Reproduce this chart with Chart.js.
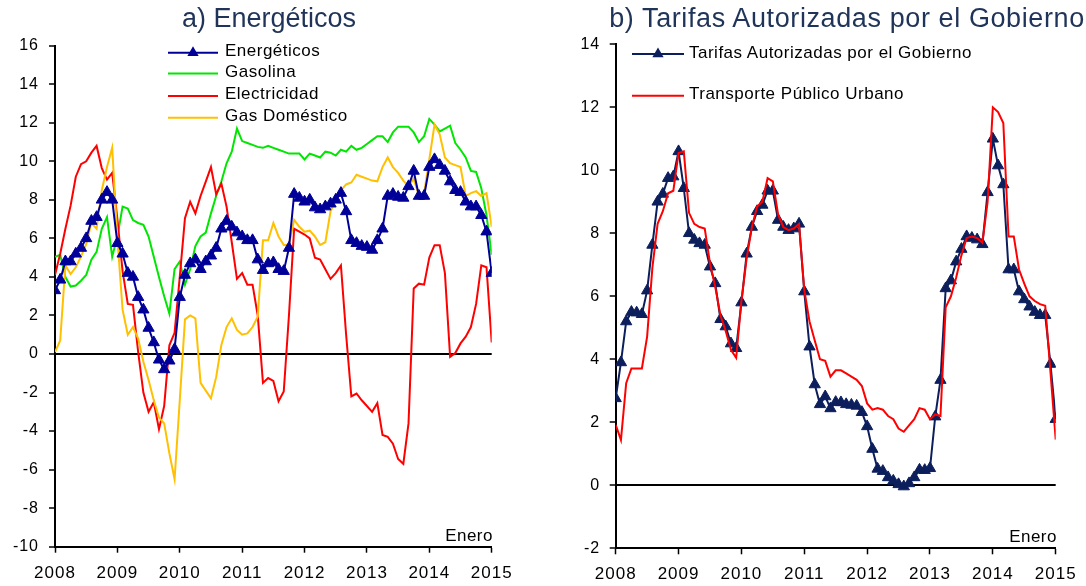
<!DOCTYPE html>
<html>
<head>
<meta charset="utf-8">
<script src="https://cdn.jsdelivr.net/npm/chart.js@4.4.0/dist/chart.umd.min.js"></script>
<style>
html,body{margin:0;padding:0;background:#fff;width:1086px;height:586px;overflow:hidden;font-family:"Liberation Sans",Arial,sans-serif;}
#wrap{position:relative;width:1086px;height:586px;}
canvas{position:absolute;top:0;}
.title{position:absolute;font-size:27px;line-height:30px;color:#1f3458;white-space:nowrap;transform:translateX(-50%);}
.lt{position:absolute;font-size:17px;line-height:20px;color:#000;white-space:nowrap;letter-spacing:0.5px;}
#legsvg{position:absolute;left:0;top:0;}
</style>
</head>
<body>
<div id="wrap">
  <canvas id="c1" width="543" height="586" style="left:0px"></canvas>
  <canvas id="c2" width="543" height="586" style="left:543px"></canvas>
  <div class="title" style="left:269px;top:3px;">a) Energéticos</div>
  <div class="title" style="left:847px;top:3px;letter-spacing:0.6px;">b) Tarifas Autorizadas por el Gobierno</div>
  <svg id="legsvg" width="1086" height="586"></svg>
  <div class="lt" style="left:225px;top:41px;">Energéticos</div>
  <div class="lt" style="left:225px;top:62px;">Gasolina</div>
  <div class="lt" style="left:225px;top:84px;">Electricidad</div>
  <div class="lt" style="left:225px;top:106px;">Gas Doméstico</div>
  <div class="lt" style="left:689px;top:43px;">Tarifas Autorizadas por el Gobierno</div>
  <div class="lt" style="left:689px;top:84px;">Transporte Público Urbano</div>
  <div class="lt" style="right:593px;top:526px;">Enero</div>
  <div class="lt" style="right:29px;top:527px;">Enero</div>
</div>
<script>
// ---- data (monthly, Jan 2008 .. Jan 2015) ----
const years = ['2008','2009','2010','2011','2012','2013','2014','2015'];

const energeticos = [3.3,3.85,4.8,4.8,5.2,5.5,6.0,6.9,7.1,8.0,8.4,8.0,
  5.75,5.2,4.2,4.0,2.95,2.3,1.35,0.6,-0.3,-0.8,-0.35,0.25,
  2.95,4.1,4.7,4.9,4.4,4.8,5.1,5.5,6.5,6.9,6.6,6.3,
  6.1,5.9,5.9,4.9,4.35,4.7,4.75,4.4,4.3,5.5,8.3,8.1,
  7.9,8.0,7.6,7.5,7.65,7.8,8.0,8.35,7.4,5.9,5.75,5.6,
  5.55,5.4,5.9,6.5,8.2,8.3,8.15,8.1,8.7,9.5,8.2,8.2,
  9.7,10.1,9.8,9.5,8.95,8.5,8.4,7.9,7.65,7.65,7.2,6.35,4.2];

const gasolina = [5.05,5.15,4.0,3.5,3.55,3.8,4.1,4.9,5.3,6.5,7.1,5.05,
  6.1,7.65,7.55,6.95,6.8,6.7,6.1,5.05,4.0,3.0,2.1,4.4,
  4.8,3.6,4.4,5.6,6.1,6.3,7.3,8.2,8.95,9.9,10.5,11.7,
  11.05,10.95,10.85,10.75,10.7,10.8,10.7,10.6,10.5,10.4,10.4,10.4,
  10.1,10.4,10.3,10.2,10.5,10.45,10.3,10.6,10.5,10.8,10.6,10.7,
  10.9,11.1,11.3,11.3,11.0,11.5,11.8,11.8,11.8,11.5,11.0,11.3,
  12.2,11.9,11.55,11.7,11.85,10.95,10.6,10.2,9.5,9.45,8.6,7.2,5.15];

const electricidad = [4.1,5.2,6.5,7.7,9.2,9.85,10.0,10.45,10.8,9.65,9.05,9.4,
  7.0,4.3,2.6,2.55,0.1,-2.0,-3.0,-2.5,-3.9,-2.7,0.45,1.1,
  4.0,7.05,7.9,7.3,8.2,8.95,9.7,8.3,8.85,7.65,5.8,3.9,
  4.2,3.6,3.6,2.0,-1.5,-1.25,-1.4,-2.45,-1.95,2.0,6.5,6.35,
  6.2,6.0,5.0,4.9,4.4,3.9,4.2,4.6,1.0,-2.2,-2.05,-2.4,
  -2.7,-3.0,-2.55,-4.2,-4.3,-4.65,-5.45,-5.7,-3.6,3.4,3.65,3.6,
  5.0,5.65,5.65,4.2,-0.15,0.05,0.55,0.9,1.4,2.6,4.6,4.5,0.6];

const gasDomestico = [0.1,0.7,4.6,4.15,4.5,5.05,5.7,6.8,6.5,8.5,9.7,10.7,
  6.0,2.3,1.0,1.4,0.8,-0.4,-1.35,-2.4,-3.3,-3.6,-5.15,-6.5,
  -2.4,1.8,2.0,1.85,-1.5,-1.9,-2.3,-1.2,0.47,1.4,1.85,1.25,
  1.0,1.07,1.4,1.94,5.9,5.9,6.8,6.1,5.66,5.66,6.96,6.6,
  6.35,6.4,6.1,5.66,5.8,7.4,8.0,8.5,8.8,8.9,9.3,9.2,
  9.1,9.0,8.96,9.7,10.2,9.7,9.4,9.0,8.7,9.1,8.2,8.35,
  10.1,11.9,11.4,10.2,9.9,9.8,9.7,8.2,8.35,8.45,8.2,8.35,6.6];

const tarifas = [2.76,3.9,5.2,5.5,5.48,5.43,6.18,7.63,9.0,9.25,9.75,9.8,
  10.6,9.43,8.0,7.79,7.68,7.63,6.94,6.41,5.27,5.04,4.5,4.35,
  5.8,7.35,8.2,8.7,8.9,9.35,9.35,8.42,8.2,8.1,8.15,8.3,
  6.15,4.4,3.2,2.57,2.82,2.44,2.64,2.63,2.57,2.55,2.52,2.32,
  1.87,1.15,0.52,0.45,0.25,0.14,0.03,-0.04,0.06,0.25,0.49,0.48,
  0.54,2.18,3.34,6.25,6.5,7.1,7.5,7.9,7.85,7.8,7.65,9.3,
  11.0,10.15,9.55,6.85,6.85,6.15,5.9,5.67,5.5,5.4,5.4,3.85,2.1];

const transporte = [1.92,1.44,3.24,3.71,3.71,3.71,4.72,6.9,8.3,8.7,9.27,9.35,
  10.55,10.6,8.65,8.3,8.2,8.15,7.05,6.3,5.4,4.9,4.3,4.05,
  5.85,7.2,8.2,8.85,9.0,9.75,9.65,8.6,8.2,8.1,8.15,8.3,
  6.2,5.2,4.6,4.0,3.95,3.45,3.65,3.65,3.55,3.45,3.35,3.15,
  2.6,2.4,2.45,2.4,2.2,2.1,1.8,1.7,1.9,2.1,2.45,2.4,
  2.1,2.25,2.2,5.65,6.0,6.6,7.3,7.85,7.9,7.85,7.7,9.0,
  12.0,11.85,11.5,7.9,7.9,6.85,6.4,6.0,5.85,5.75,5.7,3.6,1.45];

const leftTicks = {min:-10, max:16, step:2};
const rightTicks = {min:-2, max:14, step:2};

// ---- colours ----
const C_NAVY = '#000099', C_GREEN = '#00e600', C_RED = '#ff0000', C_ORANGE = '#ffc000', C_DARKNAVY = '#0c1f5c';

const toXY = arr => arr.map((v,i)=>({x:i,y:v}));

Chart.defaults.font.family = "'Liberation Sans', Arial, sans-serif";
Chart.defaults.color = '#000';

const spacingPlugin = {id:'spacing', beforeDraw(chart){ chart.ctx.letterSpacing = '1px'; }};

function build(canvasId, datasets, yt, area, yPad){
  const W = 543, H = 586;
  return new Chart(document.getElementById(canvasId), {
    type:'line',
    data:{datasets},
    plugins:[spacingPlugin],
    options:{
      responsive:false, animation:false, events:[],
      layout:{padding:{left:0, right:W-area.right, top:area.top, bottom:0}},
      plugins:{legend:{display:false}, tooltip:{enabled:false}, title:{display:false}},
      elements:{line:{tension:0}},
      scales:{
        x:{type:'linear', min:0, max:84,
           afterFit:s=>{s.height = H-area.bottom;},
           ticks:{stepSize:12, autoSkip:false, maxRotation:0, padding:10, font:{size:17},
                  callback:v=>years[Math.round(v/12)]},
           grid:{drawOnChartArea:false, drawTicks:true, tickLength:6, tickColor:'#000', tickWidth:1.5},
           border:{display:true, color:'#000', width:2}},
        y:{min:yt.min, max:yt.max,
           afterFit:s=>{s.width = area.left;},
           ticks:{stepSize:yt.step, padding:yPad, font:{size:16}},
           grid:{drawOnChartArea:true, drawTicks:true, tickLength:6, tickColor:'#000', tickWidth:1.5,
                 color:c=> (c.tick && c.tick.value===0) ? '#000' : 'rgba(0,0,0,0)', lineWidth:2},
           border:{display:true, color:'#000', width:2}}
      }
    }
  });
}

build('c1', [
  {label:'Energéticos', data:toXY(energeticos), borderColor:C_NAVY, backgroundColor:C_NAVY, borderWidth:2,
   pointStyle:'triangle', pointRadius:6.5, pointBorderWidth:1, pointBackgroundColor:C_NAVY, pointBorderColor:C_NAVY, order:0},
  {label:'Gasolina', data:toXY(gasolina), borderColor:C_GREEN, borderWidth:2, pointRadius:0, order:3},
  {label:'Electricidad', data:toXY(electricidad), borderColor:C_RED, borderWidth:2, pointRadius:0, order:2},
  {label:'Gas Doméstico', data:toXY(gasDomestico), borderColor:C_ORANGE, borderWidth:2, pointRadius:0, order:1}
], leftTicks, {left:55, right:491.7, top:45.7, bottom:546.7}, 10);

build('c2', [
  {label:'Tarifas Autorizadas por el Gobierno', data:toXY(tarifas), borderColor:C_DARKNAVY, backgroundColor:C_DARKNAVY, borderWidth:2,
   pointStyle:'triangle', pointRadius:6.5, pointBorderWidth:1, pointBackgroundColor:C_DARKNAVY, pointBorderColor:C_DARKNAVY, order:1},
  {label:'Transporte Público Urbano', data:toXY(transporte), borderColor:C_RED, borderWidth:2, pointRadius:0, order:0}
], rightTicks, {left:72.7, right:512.7, top:44.3, bottom:548.3}, 9.5);

// ---- legend line samples ----
const svg = document.getElementById('legsvg');
function ln(x1,x2,y,col){
  const l = document.createElementNS('http://www.w3.org/2000/svg','line');
  l.setAttribute('x1',x1); l.setAttribute('x2',x2); l.setAttribute('y1',y); l.setAttribute('y2',y);
  l.setAttribute('stroke',col); l.setAttribute('stroke-width',2); svg.appendChild(l);
}
function tri(cx,cy,col){
  const p = document.createElementNS('http://www.w3.org/2000/svg','polygon');
  const r = 6.5;
  p.setAttribute('points', `${cx},${cy-r} ${cx+r*0.866},${cy+r*0.5} ${cx-r*0.866},${cy+r*0.5}`);
  p.setAttribute('fill',col); svg.appendChild(p);
}
ln(168,218,52.7,C_NAVY); tri(193,52.7,C_NAVY);
ln(168,218,73.5,C_GREEN);
ln(168,218,96,C_RED);
ln(168,218,117.7,C_ORANGE);
ln(632,684,54,C_DARKNAVY); tri(658,54,C_DARKNAVY);
ln(632,684,95.7,C_RED);
</script>
</body>
</html>
